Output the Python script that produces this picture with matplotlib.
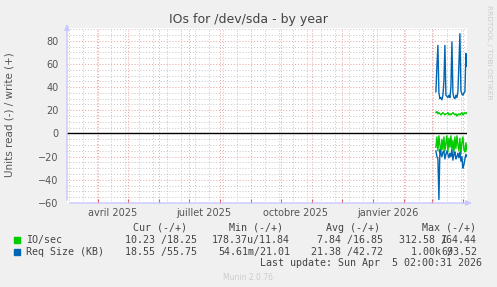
import datetime as dt
import matplotlib
matplotlib.use("Agg")
import matplotlib.pyplot as plt
import matplotlib.dates as mdates
from matplotlib.ticker import MultipleLocator, NullFormatter

# data: one point per day, 5 Mar 2026 -> 5 Apr 2026
start_day = dt.datetime(2026, 3, 5)
io_write = [18, 19, 17, 18, 17, 16, 17, 18, 17, 16, 17, 17, 18, 16, 17, 16,
            17, 18, 17, 16, 17, 15, 16, 17, 16, 17, 18, 16, 17, 18, 17, 18]
io_read = [-12, -3, -15, -2, -10, -18, -5, -14, -3, -15, -8, -2, -16, -4, -12, -2,
           -14, -6, -17, -3, -13, -2, -10, -15, -4, -18, -8, -3, -14, -16, -8, -15]
req_write = [36, 58, 76, 35, 30, 31, 29, 33, 45, 76, 33, 32, 31, 33, 31, 40,
             79, 35, 31, 30, 33, 31, 36, 60, 86, 37, 34, 33, 35, 36, 69, 58]
req_read = [-15, -20, -22, -57, -14, -18, -20, -16, -15, -22, -18, -15, -18, -21, -17, -20,
            -14, -23, -18, -16, -22, -20, -17, -21, -16, -24, -20, -30, -27, -22, -18, -20]
days = [start_day + dt.timedelta(days=i) for i in range(len(io_write))]

month_labels = ["avril 2025", "juillet 2025", "octobre 2025", "janvier 2026"]
label_dates = [dt.datetime(2025, 4, 16), dt.datetime(2025, 7, 16),
               dt.datetime(2025, 10, 16), dt.datetime(2026, 1, 16)]

legend_rows = [
    ("IO/sec", "#00CC00", "10.23 /18.25", "178.37u/11.84", "7.84 /16.85", "312.58 /", "164.44"),
    ("Req Size (KB)", "#0066B3", "18.55 /55.75", "54.61m/21.01", "21.38 /42.72", "1.00k /", "693.52"),
]

W, H = 497, 287
fig = plt.figure(figsize=(W / 100, H / 100), dpi=100, facecolor="#F0F0F0")
ax = fig.add_axes([67 / W, 1 - 203 / H, 400 / W, 175 / H], facecolor="white")


def px(x, y):
    return x / W, 1 - y / H


end = dt.datetime(2026, 4, 5, 2, 0)
ax.set_xlim(end - dt.timedelta(days=400), end)
ax.set_ylim(-60, 91)

# grid
ax.xaxis.set_major_locator(mdates.MonthLocator())
ax.xaxis.set_minor_locator(mdates.WeekdayLocator(byweekday=mdates.MO, interval=2))
ax.xaxis.set_major_formatter(NullFormatter())
ax.yaxis.set_major_locator(MultipleLocator(20))
ax.yaxis.set_minor_locator(MultipleLocator(5))
ax.grid(which="minor", color="#c4c4c4", linestyle=(0, (1, 2)), linewidth=0.7)
ax.grid(which="major", color="#eca0a0", linestyle=(0, (1, 2)), linewidth=0.7)
ax.set_axisbelow(True)
ax.tick_params(which="both", length=0)
ax.tick_params(axis="x", which="major", length=3, direction="in", color="#e06060")
ax.tick_params(axis="y", labelsize=7, labelcolor="#555555", pad=6)
for s in ax.spines.values():
    s.set_visible(False)

for d, lab in zip(label_dates, month_labels):
    ax.text(d, -0.03, lab, transform=ax.get_xaxis_transform(), ha="center", va="top",
            fontsize=7, color="#555555")

ax.axhline(0, color="black", lw=1.0, zorder=3)
ax.plot(days, io_write, color="#00CC00", lw=1.0, zorder=4)
ax.plot(days, io_read, color="#00CC00", lw=1.0, zorder=4)
ax.plot(days, req_write, color="#0066B3", lw=1.0, zorder=5)
ax.plot(days, req_read, color="#0066B3", lw=1.0, zorder=5)

# axes with arrows
arrow = dict(arrowstyle="-|>,head_width=0.15,head_length=0.35", color="#C8C8FF", lw=1.0)
ax.annotate("", xy=(0, 1.04), xytext=(0, 0), xycoords="axes fraction", arrowprops=arrow,
            annotation_clip=False)
ax.annotate("", xy=(1.02, 0), xytext=(0, 0), xycoords="axes fraction", arrowprops=arrow,
            annotation_clip=False)

fig.text(*px(248, 19), "IOs for /dev/sda - by year", ha="center", va="center",
         fontsize=9, color="#444444")
fig.text(*px(10, 115), "Units read (-) / write (+)", ha="center", va="center",
         rotation=90, fontsize=7.5, color="#555555")
fig.text(*px(489, 5), "RRDTOOL / TOBI OETIKER", ha="center", va="top",
         rotation=270, fontsize=5.3, color="#cccccc")

mono = dict(family="DejaVu Sans Mono", fontsize=7.2, color="#444444", va="center")
for xr, head in zip([187, 283, 380, 476], ["Cur (-/+)", "Min (-/+)", "Avg (-/+)", "Max (-/+)"]):
    fig.text(*px(xr, 228), head, ha="right", **mono)
for i, (name, col, cur, mn, avg, mx1, mx2) in enumerate(legend_rows):
    y = 240 + i * 11.7
    fig.patches.append(plt.Rectangle(px(14, y + 3), 6 / W, 6 / H, color=col,
                                     transform=fig.transFigure, figure=fig))
    fig.text(*px(26, y), name, ha="left", **mono)
    fig.text(*px(197, y), cur, ha="right", **mono)
    fig.text(*px(290, y), mn, ha="right", **mono)
    fig.text(*px(383, y), avg, ha="right", **mono)
    # the reference itself draws these two pieces on top of each other
    fig.text(*px(447 + 6 * i, y), mx1, ha="right", **mono)
    fig.text(*px(477, y), mx2, ha="right", **mono)
fig.text(*px(482, 263.5), "Last update: Sun Apr  5 02:00:31 2026", ha="right", **mono)
fig.text(*px(248, 277), "Munin 2.0.76", ha="center", va="center", fontsize=5.5, color="#cccccc")

fig.savefig("out.png", dpi=100, facecolor=fig.get_facecolor())
